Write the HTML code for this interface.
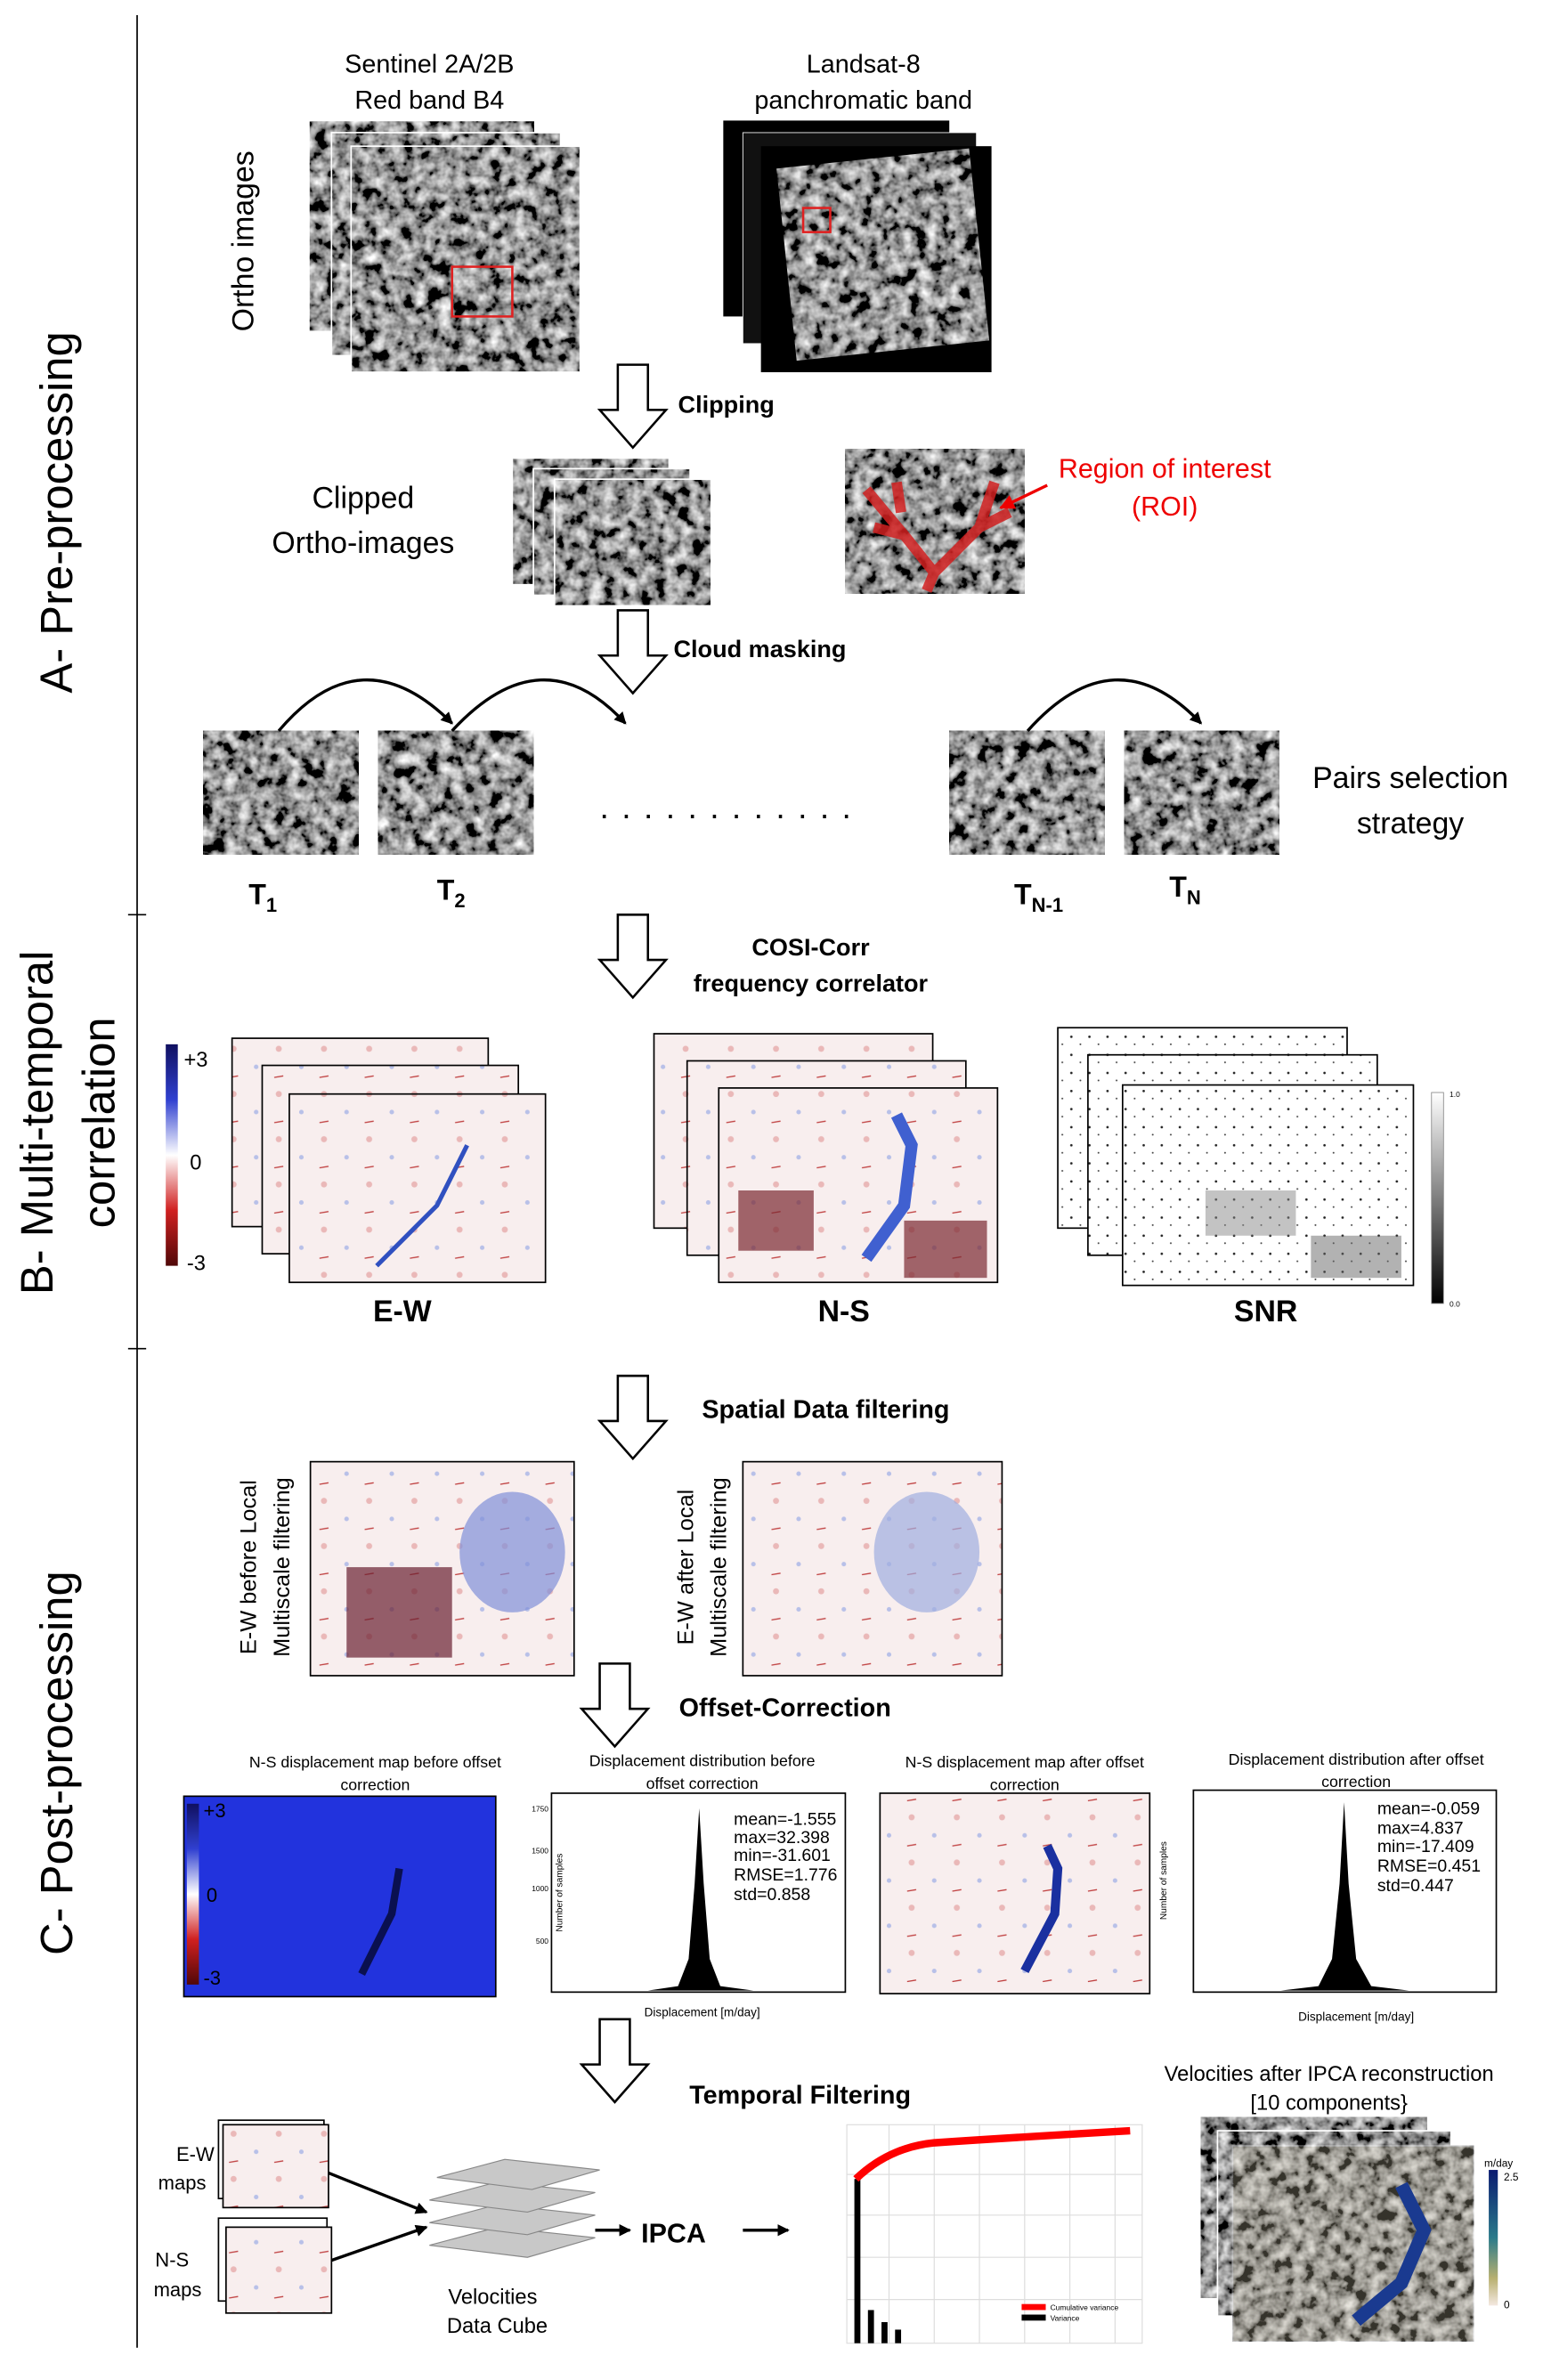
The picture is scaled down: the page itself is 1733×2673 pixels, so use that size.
<!DOCTYPE html>
<html><head><meta charset="utf-8">
<style>html,body{margin:0;padding:0;background:#fff}svg{display:block}text{font-family:"Liberation Sans",sans-serif}</style>
</head><body>
<svg width="1733" height="2673" viewBox="0 0 1024 1579.4" xmlns="http://www.w3.org/2000/svg">
<defs>
<linearGradient id="bwr" x1="0" y1="0" x2="0" y2="1"><stop offset="0" stop-color="#101060"/><stop offset="0.25" stop-color="#3040d0"/><stop offset="0.5" stop-color="#ffffff"/><stop offset="0.75" stop-color="#d02020"/><stop offset="1" stop-color="#500808"/></linearGradient>
<linearGradient id="gr" x1="0" y1="0" x2="0" y2="1"><stop offset="0" stop-color="#fff"/><stop offset="1" stop-color="#000"/></linearGradient>
<linearGradient id="vir" x1="0" y1="0" x2="0" y2="1"><stop offset="0" stop-color="#0a1a70"/><stop offset="0.5" stop-color="#2a7a8a"/><stop offset="0.8" stop-color="#b8b070"/><stop offset="1" stop-color="#f4e8e0"/></linearGradient>
<filter id="tn" x="0" y="0" width="1" height="1">
<feTurbulence type="fractalNoise" baseFrequency="0.12" numOctaves="3" seed="4"/>
<feColorMatrix type="matrix" values="0.6 0.4 0 0 0  0.6 0.4 0 0 0  0.6 0.4 0 0 0  0 0 0 0 1"/>
<feComponentTransfer><feFuncR type="linear" slope="2.4" intercept="-0.9"/><feFuncG type="linear" slope="2.4" intercept="-0.9"/><feFuncB type="linear" slope="2.4" intercept="-0.9"/></feComponentTransfer>
</filter>
<pattern id="ew" width="30" height="30" patternUnits="userSpaceOnUse"><rect width="30" height="30" fill="#f8eeee"/><circle cx="5" cy="6" r="2" fill="#eab8b8"/><circle cx="20" cy="18" r="1.5" fill="#b8c0e8"/><path d="M2 25 L8 24" stroke="#c04040" stroke-width="0.8"/></pattern>
<pattern id="snr" width="12" height="12" patternUnits="userSpaceOnUse"><rect width="12" height="12" fill="#fff"/><circle cx="3" cy="4" r="0.8" fill="#222"/><circle cx="9" cy="9" r="0.6" fill="#444"/></pattern>
<marker id="ah" markerWidth="8" markerHeight="8" refX="7" refY="4" orient="auto" markerUnits="userSpaceOnUse"><path d="M0 0 L8 4 L0 8 z" fill="#000"/></marker>
<marker id="ahr" markerWidth="10" markerHeight="10" refX="9" refY="5" orient="auto" markerUnits="userSpaceOnUse"><path d="M0 0 L10 5 L0 10 z" fill="#e00"/></marker>
<g id="harrow"><path d="M-10 0 h20 v30 h12 l-22 25 l-22 -25 h12 z" fill="#fff" stroke="#000" stroke-width="1.5"/></g>
</defs>

<line x1="91" y1="10" x2="91" y2="1558" stroke="#000" stroke-width="1"/>
<line x1="85" y1="607" x2="97" y2="607" stroke="#000"/>
<line x1="85" y1="895" x2="97" y2="895" stroke="#000"/>
<text transform="translate(48,340) rotate(-90)" font-size="30" text-anchor="middle">A- Pre-processing</text>
<text transform="translate(35,745) rotate(-90)" font-size="30" text-anchor="middle">B- Multi-temporal</text>
<text transform="translate(76,745) rotate(-90)" font-size="30" text-anchor="middle">correlation</text>
<text transform="translate(48,1170) rotate(-90)" font-size="30" text-anchor="middle">C- Post-processing</text>

<text x="285" y="48" font-size="17" text-anchor="middle">Sentinel 2A/2B</text>
<text x="285" y="72" font-size="17" text-anchor="middle">Red band  B4</text>
<text transform="translate(168,160) rotate(-90)" font-size="20" text-anchor="middle">Ortho images</text>
<rect x="205" y="80" width="150" height="140" filter="url(#tn)"/>
<rect x="205" y="80" width="150" height="140" fill="none" stroke="#fff"/>
<rect x="220" y="88" width="152" height="148" filter="url(#tn)"/>
<rect x="220" y="88" width="152" height="148" fill="none" stroke="#fff"/>
<rect x="233" y="97" width="152" height="150" filter="url(#tn)"/>
<rect x="233" y="97" width="152" height="150" fill="none" stroke="#fff"/>
<rect x="300" y="177" width="40" height="33" fill="none" stroke="#e02020" stroke-width="1.5"/>
<text x="573" y="48" font-size="17" text-anchor="middle">Landsat-8</text>
<text x="573" y="72" font-size="17" text-anchor="middle">panchromatic band</text>
<rect x="480" y="80" width="150" height="130" fill="#000"/>
<rect x="493" y="88" width="155" height="140" fill="#111" stroke="#fff" stroke-width="0.5"/>
<rect x="505" y="97" width="153" height="150" fill="#000"/>
<g transform="rotate(-6 585 170)"><rect x="522" y="105" width="128" height="128" filter="url(#tn)"/></g>
<rect x="533" y="138" width="18" height="16" fill="none" stroke="#e02020" stroke-width="1.5"/>
<use href="#harrow" transform="translate(420,242)"/>
<text x="450" y="274" font-size="16" font-weight="bold">Clipping</text>
<text x="241" y="337" font-size="20" text-anchor="middle">Clipped</text>
<text x="241" y="367" font-size="20" text-anchor="middle">Ortho-images</text>
<rect x="340" y="304" width="104" height="84" filter="url(#tn)"/><rect x="340" y="304" width="104" height="84" fill="none" stroke="#fff"/>
<rect x="354" y="311" width="104" height="84" filter="url(#tn)"/><rect x="354" y="311" width="104" height="84" fill="none" stroke="#fff"/>
<rect x="368" y="318" width="104" height="84" filter="url(#tn)"/><rect x="368" y="318" width="104" height="84" fill="none" stroke="#fff"/>
<rect x="561" y="298" width="119" height="96" filter="url(#tn)"/>
<path d="M575 325 L600 355 L620 380 L650 350 L660 320 M620 380 L615 392 M600 355 L580 350 M650 350 L670 340 M595 320 L598 340" stroke="#d02020" stroke-width="7" fill="none" opacity="0.85"/>
<text x="773" y="317" font-size="18" fill="#e00" text-anchor="middle">Region of interest</text>
<text x="773" y="342" font-size="18" fill="#e00" text-anchor="middle">(ROI)</text>
<line x1="695" y1="322" x2="664" y2="337" stroke="#e00" stroke-width="2" marker-end="url(#ahr)"/>
<use href="#harrow" transform="translate(420,405)"/>
<text x="447" y="436" font-size="16" font-weight="bold">Cloud masking</text>
<rect x="135" y="485" width="103" height="82" filter="url(#tn)"/>
<rect x="251" y="485" width="103" height="82" filter="url(#tn)"/>
<rect x="630" y="485" width="103" height="82" filter="url(#tn)"/>
<rect x="746" y="485" width="103" height="82" filter="url(#tn)"/>
<path d="M185 485 Q240 420 300 480" stroke="#000" stroke-width="2" fill="none" marker-end="url(#ah)"/>
<path d="M300 485 Q360 420 415 480" stroke="#000" stroke-width="2" fill="none" marker-end="url(#ah)"/>
<path d="M682 485 Q740 420 797 480" stroke="#000" stroke-width="2" fill="none" marker-end="url(#ah)"/>
<text x="398" y="543" font-size="22" letter-spacing="8.5">............</text>
<text x="936" y="523" font-size="20" text-anchor="middle">Pairs selection</text>
<text x="936" y="553" font-size="20" text-anchor="middle">strategy</text>
<text x="165" y="600" font-size="19" font-weight="bold">T<tspan font-size="13" dy="5">1</tspan></text>
<text x="290" y="597" font-size="19" font-weight="bold">T<tspan font-size="13" dy="5">2</tspan></text>
<text x="673" y="600" font-size="19" font-weight="bold">T<tspan font-size="13" dy="5">N-1</tspan></text>
<text x="776" y="595" font-size="19" font-weight="bold">T<tspan font-size="13" dy="5">N</tspan></text>

<use href="#harrow" transform="translate(420,607)"/>
<text x="538" y="634" font-size="16" font-weight="bold" text-anchor="middle">COSI-Corr</text>
<text x="538" y="658" font-size="16" font-weight="bold" text-anchor="middle">frequency correlator</text>
<rect x="110" y="693" width="8" height="147" fill="url(#bwr)"/>
<text x="122" y="708" font-size="14">+3</text><text x="126" y="776" font-size="14">0</text><text x="124" y="843" font-size="14">-3</text>
<rect x="154" y="689" width="170" height="125" fill="url(#ew)" stroke="#000"/>
<rect x="174" y="707" width="170" height="125" fill="url(#ew)" stroke="#000"/>
<rect x="192" y="726" width="170" height="125" fill="url(#ew)" stroke="#000"/>
<path d="M250 840 L290 800 L310 760" stroke="#3050c0" stroke-width="3" fill="none"/>
<text x="267" y="877" font-size="20" font-weight="bold" text-anchor="middle">E-W</text>
<rect x="434" y="686" width="185" height="129" fill="url(#ew)" stroke="#000"/>
<rect x="456" y="704" width="185" height="129" fill="url(#ew)" stroke="#000"/>
<rect x="477" y="722" width="185" height="129" fill="url(#ew)" stroke="#000"/>
<path d="M575 835 L600 800 L605 760 L595 740" stroke="#4060d0" stroke-width="8" fill="none"/>
<rect x="490" y="790" width="50" height="40" fill="#7a2830" opacity="0.7"/>
<rect x="600" y="810" width="55" height="38" fill="#7a2830" opacity="0.7"/>
<text x="560" y="877" font-size="20" font-weight="bold" text-anchor="middle">N-S</text>
<rect x="702" y="682" width="192" height="133" fill="url(#snr)" stroke="#000"/>
<rect x="722" y="700" width="192" height="133" fill="url(#snr)" stroke="#000"/>
<rect x="745" y="720" width="193" height="133" fill="url(#snr)" stroke="#000"/>
<rect x="800" y="790" width="60" height="30" fill="#888" opacity="0.5"/>
<rect x="870" y="820" width="60" height="28" fill="#666" opacity="0.5"/>
<rect x="950" y="725" width="8" height="140" fill="url(#gr)" stroke="#888" stroke-width="0.5"/>
<text x="962" y="728" font-size="5">1.0</text><text x="962" y="867" font-size="5">0.0</text>
<text x="840" y="877" font-size="20" font-weight="bold" text-anchor="middle">SNR</text>

<use href="#harrow" transform="translate(420,913)"/>
<text x="548" y="941" font-size="17" font-weight="bold" text-anchor="middle">Spatial Data filtering</text>
<text transform="translate(170,1040) rotate(-90)" font-size="15" text-anchor="middle">E-W before Local</text>
<text transform="translate(192,1040) rotate(-90)" font-size="15" text-anchor="middle">Multiscale filtering</text>
<rect x="206" y="970" width="175" height="142" fill="url(#ew)" stroke="#000"/>
<ellipse cx="340" cy="1030" rx="35" ry="40" fill="#8090d8" opacity="0.7"/>
<rect x="230" y="1040" width="70" height="60" fill="#6a2030" opacity="0.7"/>
<text transform="translate(460,1040) rotate(-90)" font-size="15" text-anchor="middle">E-W after Local</text>
<text transform="translate(482,1040) rotate(-90)" font-size="15" text-anchor="middle">Multiscale filtering</text>
<rect x="493" y="970" width="172" height="142" fill="url(#ew)" stroke="#000"/>
<ellipse cx="615" cy="1030" rx="35" ry="40" fill="#a0aee0" opacity="0.7"/>
<use href="#harrow" transform="translate(408,1104)"/>
<text x="521" y="1139" font-size="17" font-weight="bold" text-anchor="middle">Offset-Correction</text>
<g font-size="10.5" text-anchor="middle">
<text x="249" y="1173">N-S displacement map before offset</text><text x="249" y="1188">correction</text>
<text x="466" y="1172">Displacement distribution before</text><text x="466" y="1187">offset correction</text>
<text x="680" y="1173">N-S displacement map after offset</text><text x="680" y="1188">correction</text>
<text x="900" y="1171">Displacement distribution after offset</text><text x="900" y="1186">correction</text>
</g>
<rect x="122" y="1192" width="207" height="133" fill="#2233dd" stroke="#000"/>
<path d="M240 1310 L260 1270 L265 1240" stroke="#0a1050" stroke-width="5" fill="none"/>
<rect x="124" y="1197" width="8" height="120" fill="url(#bwr)"/>
<text x="135" y="1206" font-size="13">+3</text><text x="137" y="1262" font-size="13">0</text><text x="135" y="1317" font-size="13">-3</text>
<rect x="366" y="1190" width="195" height="132" fill="#fff" stroke="#000"/>
<path d="M430 1321 L450 1318 L457 1300 L461 1250 L464 1200 L467 1250 L471 1300 L478 1318 L500 1321 Z" fill="#000"/>
<g font-size="11.5"><text x="487" y="1211">mean=-1.555</text><text x="487" y="1223">max=32.398</text><text x="487" y="1235">min=-31.601</text><text x="487" y="1248">RMSE=1.776</text><text x="487" y="1261">std=0.858</text></g>
<text x="466" y="1338" font-size="8" text-anchor="middle">Displacement [m/day]</text>
<text transform="translate(373,1256) rotate(-90)" font-size="6" text-anchor="middle">Number of samples</text>
<g font-size="5" text-anchor="end"><text x="364" y="1202">1750</text><text x="364" y="1230">1500</text><text x="364" y="1255">1000</text><text x="364" y="1290">500</text></g>
<rect x="584" y="1190" width="179" height="133" fill="url(#ew)" stroke="#000"/>
<path d="M680 1308 L700 1270 L702 1240 L695 1225" stroke="#1a30a0" stroke-width="6" fill="none"/>
<rect x="792" y="1188" width="201" height="134" fill="#fff" stroke="#000"/>
<path d="M850 1321 L875 1318 L884 1300 L889 1250 L892 1196 L895 1250 L900 1300 L910 1318 L935 1321 Z" fill="#000"/>
<g font-size="11.5"><text x="914" y="1204">mean=-0.059</text><text x="914" y="1217">max=4.837</text><text x="914" y="1229">min=-17.409</text><text x="914" y="1242">RMSE=0.451</text><text x="914" y="1255">std=0.447</text></g>
<text x="900" y="1341" font-size="8" text-anchor="middle">Displacement [m/day]</text>
<text transform="translate(774,1248) rotate(-90)" font-size="6" text-anchor="middle">Number of samples</text>

<use href="#harrow" transform="translate(408,1340)"/>
<text x="531" y="1396" font-size="17" font-weight="bold" text-anchor="middle">Temporal Filtering</text>
<text x="117" y="1434" font-size="13">E-W</text><text x="105" y="1453" font-size="13">maps</text>
<text x="103" y="1504" font-size="13">N-S</text><text x="102" y="1524" font-size="13">maps</text>
<rect x="145" y="1407" width="70" height="52" fill="#fff" stroke="#000"/>
<rect x="148" y="1410" width="70" height="55" fill="url(#ew)" stroke="#000"/>
<rect x="145" y="1472" width="72" height="55" fill="#fff" stroke="#000"/>
<rect x="150" y="1478" width="70" height="57" fill="url(#ew)" stroke="#000"/>
<line x1="218" y1="1442" x2="283" y2="1468" stroke="#000" stroke-width="2" marker-end="url(#ah)"/>
<line x1="220" y1="1500" x2="283" y2="1478" stroke="#000" stroke-width="2" marker-end="url(#ah)"/>
<g fill="#c8c8c8" stroke="#888" stroke-width="0.7">
<polygon points="285,1490 330,1478 395,1485 350,1498"/>
<polygon points="285,1475 330,1463 395,1470 350,1483"/>
<polygon points="285,1460 330,1448 395,1455 350,1468"/>
<polygon points="290,1445 335,1433 398,1440 353,1453"/>
</g>
<text x="327" y="1529" font-size="14" text-anchor="middle">Velocities</text>
<text x="330" y="1548" font-size="14" text-anchor="middle">Data Cube</text>
<line x1="395" y1="1480" x2="418" y2="1480" stroke="#000" stroke-width="2" marker-end="url(#ah)"/>
<text x="447" y="1488" font-size="18" font-weight="bold" text-anchor="middle">IPCA</text>
<line x1="493" y1="1480" x2="523" y2="1480" stroke="#000" stroke-width="2" marker-end="url(#ah)"/>
<g stroke="#ddd" stroke-width="0.7">
<rect x="562" y="1410" width="196" height="145" fill="#fff"/>
<line x1="562" y1="1443" x2="758" y2="1443"/><line x1="562" y1="1470" x2="758" y2="1470"/><line x1="562" y1="1498" x2="758" y2="1498"/><line x1="562" y1="1526" x2="758" y2="1526"/>
<line x1="590" y1="1410" x2="590" y2="1555"/><line x1="620" y1="1410" x2="620" y2="1555"/><line x1="650" y1="1410" x2="650" y2="1555"/><line x1="680" y1="1410" x2="680" y2="1555"/><line x1="710" y1="1410" x2="710" y2="1555"/><line x1="740" y1="1410" x2="740" y2="1555"/>
</g>
<rect x="567" y="1446" width="4" height="109" fill="#000"/>
<rect x="576" y="1533" width="4" height="22" fill="#000"/>
<rect x="585" y="1541" width="4" height="14" fill="#000"/>
<rect x="594" y="1546" width="4" height="9" fill="#000"/>
<path d="M568 1446 Q590 1425 620 1422 Q680 1418 750 1414" stroke="#f00" stroke-width="5" fill="none"/>
<rect x="678" y="1529" width="16" height="4" fill="#f00"/><text x="697" y="1533" font-size="5">Cumulative variance</text>
<rect x="678" y="1536" width="16" height="4" fill="#000"/><text x="697" y="1540" font-size="5">Variance</text>
<text x="882" y="1381" font-size="14" text-anchor="middle">Velocities after IPCA reconstruction</text>
<text x="882" y="1400" font-size="14" text-anchor="middle">[10 components}</text>
<rect x="797" y="1405" width="150" height="120" filter="url(#tn)"/>
<rect x="808" y="1414" width="155" height="123" filter="url(#tn)"/>
<rect x="808" y="1414" width="155" height="123" fill="none" stroke="#fff"/>
<rect x="818" y="1424" width="160" height="130" filter="url(#tn)"/>
<rect x="818" y="1424" width="160" height="130" fill="#b0a890" opacity="0.3" stroke="#fff"/>
<path d="M930 1450 L945 1480 L930 1515 L900 1540" stroke="#1a3a90" stroke-width="9" fill="none"/>
<rect x="988" y="1440" width="6" height="90" fill="url(#vir)"/>
<text x="985" y="1438" font-size="7">m/day</text><text x="998" y="1447" font-size="7">2.5</text><text x="998" y="1532" font-size="7">0</text>
</svg>
</body></html>
